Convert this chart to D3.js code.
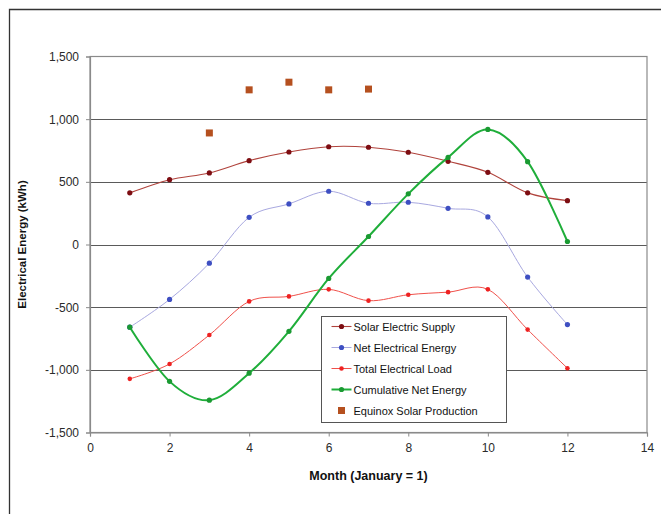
<!DOCTYPE html>
<html lang="en">
<head>
    <meta charset="UTF-8">
    <title>Electrical Energy by Month</title>
    <script src="https://d3js.org/d3.v7.min.js"></script>
    <style>
        body { margin: 0; background: #fff; }
        #chart svg { font-family: "Liberation Sans", Arial, sans-serif; }
    </style>
</head>
<body>
<div id="chart"></div>
<script>
// data
var months = [1, 2, 3, 4, 5, 6, 7, 8, 9, 10, 11, 12];
var solarSupply = [412, 517, 571, 669, 738, 780, 776, 736, 664, 576, 412, 350];
var netEnergy = [-660, -438, -149, 217, 324, 425, 329, 337, 289, 220, -260, -639];
var totalLoad = [-1072, -953, -722, -454, -414, -358, -448, -401, -380, -358, -679, -987];
var cumulativeNet = [-660, -1092, -1242, -1027, -693, -271, 64, 404, 695, 918, 661, 24];
var equinoxMonths = [3, 4, 5, 6, 7];
var equinoxValues = [890, 1234, 1295, 1234, 1240];
var xTicks = [0, 2, 4, 6, 8, 10, 12, 14];
var yTicks = [-1500, -1000, -500, 0, 500, 1000, 1500];

var width = 661, height = 514;
var margin = {left: 90, right: 14, top: 56.5, bottom: 81.5};

var svg = d3.select("#chart").append("svg")
    .attr("width", width)
    .attr("height", height);

// outer frame
svg.append("path")
    .attr("d", "M9.5," + height + "V9.5H" + width)
    .attr("fill", "none")
    .attr("stroke", "#333")
    .attr("stroke-width", 1.3);

var x = d3.scaleLinear().domain([0, 14]).range([margin.left, width - margin.right]);
var y = d3.scaleLinear().domain([-1500, 1500]).range([height - margin.bottom, margin.top]);

// gridlines
svg.append("g")
    .selectAll("line")
    .data(yTicks.filter(d => d > -1500 && d < 1500))
    .enter().append("line")
    .attr("x1", x(0)).attr("x2", x(14))
    .attr("y1", d => Math.round(y(d)) + 0.5)
    .attr("y2", d => Math.round(y(d)) + 0.5)
    .attr("stroke", "#5a5a5a")
    .attr("stroke-width", 1);

// plot area border
svg.append("rect")
    .attr("x", x(0)).attr("y", y(1500))
    .attr("width", x(14) - x(0))
    .attr("height", y(-1500) - y(1500))
    .attr("fill", "none")
    .attr("stroke", "#8a8a8a")
    .attr("stroke-width", 1.2);

// axes (plain hyphen for negatives, like the original)
var fmt = d3.format(",");
var yAxis = svg.append("g")
    .attr("transform", `translate(${x(0)},0)`)
    .call(d3.axisLeft(y).tickValues(yTicks).tickSize(4).tickPadding(7)
        .tickFormat(d => fmt(d).replace("\u2212", "-")));
var xAxis = svg.append("g")
    .attr("transform", `translate(0,${y(-1500)})`)
    .call(d3.axisBottom(x).tickValues(xTicks).tickSize(4).tickPadding(7));

[xAxis, yAxis].forEach(function(ax) {
    ax.select(".domain").attr("stroke", "#8a8a8a").attr("stroke-width", 1.2);
    ax.selectAll(".tick line").attr("stroke", "#8a8a8a");
    ax.selectAll(".tick text")
        .attr("fill", "#2a2a2a")
        .style("font-size", "12px")
        .style("font-family", "'Liberation Sans', Arial, sans-serif");
});

// axis titles
svg.append("text")
    .attr("x", (x(0) + x(14)) / 2)
    .attr("y", 480)
    .attr("text-anchor", "middle")
    .style("font-size", "12.5px")
    .style("font-weight", "bold")
    .attr("fill", "#111")
    .text("Month (January = 1)");

svg.append("text")
    .attr("transform", `translate(26,${(y(1500) + y(-1500)) / 2}) rotate(-90)`)
    .attr("text-anchor", "middle")
    .style("font-size", "11.5px")
    .style("font-weight", "bold")
    .attr("fill", "#111")
    .text("Electrical Energy (kWh)");

var series = [
    {name: "Solar Electric Supply", values: solarSupply, line: "#b0433c", dot: "#7d0d12", lw: 1.1, r: 2.6},
    {name: "Net Electrical Energy", values: netEnergy, line: "#a8a8e0", dot: "#3e4fc2", lw: 1, r: 2.6},
    {name: "Total Electrical Load", values: totalLoad, line: "#f0504a", dot: "#ee2222", lw: 1, r: 2.3},
    {name: "Cumulative Net Energy", values: cumulativeNet, line: "#1fae3a", dot: "#1a9a32", lw: 2, r: 2.6}
];

var line = d3.line()
    .x(d => x(d[0]))
    .y(d => y(d[1]))
    .curve(d3.curveCatmullRom.alpha(0));

series.forEach(function(s) {
    var pts = months.map((m, i) => [m, s.values[i]]);
    svg.append("path")
        .datum(pts)
        .attr("d", line)
        .attr("fill", "none")
        .attr("stroke", s.line)
        .attr("stroke-width", s.lw);
    svg.append("g")
        .selectAll("circle")
        .data(pts)
        .enter().append("circle")
        .attr("cx", d => x(d[0]))
        .attr("cy", d => y(d[1]))
        .attr("r", s.r)
        .attr("fill", s.dot);
});

// equinox squares
svg.append("g")
    .selectAll("rect")
    .data(equinoxMonths.map((m, i) => [m, equinoxValues[i]]))
    .enter().append("rect")
    .attr("x", d => x(d[0]) - 3.5)
    .attr("y", d => y(d[1]) - 3.5)
    .attr("width", 7).attr("height", 7)
    .attr("fill", "#b5501f");

// legend
var lg = svg.append("g").attr("transform", "translate(321.5,316.5)");
lg.append("rect")
    .attr("width", 185).attr("height", 106)
    .attr("fill", "#fff")
    .attr("stroke", "#555")
    .attr("stroke-width", 1);

series.forEach(function(s, i) {
    var ly = 10 + i * 21;
    lg.append("line")
        .attr("x1", 10).attr("x2", 30)
        .attr("y1", ly).attr("y2", ly)
        .attr("stroke", s.line)
        .attr("stroke-width", s.lw);
    lg.append("circle")
        .attr("cx", 20).attr("cy", ly).attr("r", s.r)
        .attr("fill", s.dot);
    lg.append("text")
        .attr("x", 32).attr("y", ly + 4)
        .style("font-size", "11px")
        .attr("fill", "#111")
        .text(s.name);
});
lg.append("rect")
    .attr("x", 16.5).attr("y", 10 + 4 * 21 - 3.5)
    .attr("width", 7).attr("height", 7)
    .attr("fill", "#b5501f");
lg.append("text")
    .attr("x", 32).attr("y", 10 + 4 * 21 + 4)
    .style("font-size", "11px")
    .attr("fill", "#111")
    .text("Equinox Solar Production");
</script>
</body>
</html>
